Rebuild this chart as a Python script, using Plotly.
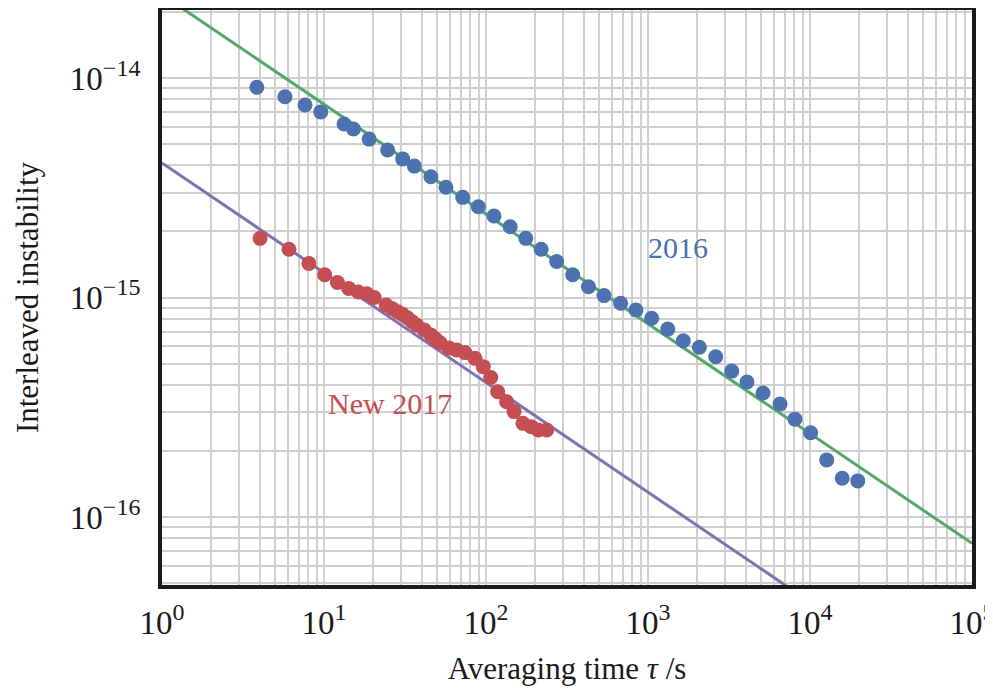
import plotly.graph_objects as go

# ---- data ----
tau_2016 = [3.85, 5.74, 7.64, 9.55, 13.3, 15.2, 19.0, 24.7, 30.6, 36.1, 45.7, 56.6, 71.8, 89.7,
            112, 141, 176, 219, 273, 343, 429, 535, 678, 843, 1054, 1324, 1652, 2075, 2618,
            3289, 4083, 5129, 6531, 8072, 10090, 12680, 15810, 19720]
val_2016 = [9.08e-15, 8.22e-15, 7.53e-15, 7.01e-15, 6.17e-15, 5.86e-15, 5.27e-15, 4.70e-15,
            4.28e-15, 3.97e-15, 3.55e-15, 3.18e-15, 2.86e-15, 2.59e-15, 2.35e-15, 2.10e-15,
            1.86e-15, 1.66e-15, 1.46e-15, 1.27e-15, 1.12e-15, 1.02e-15, 9.42e-16, 8.77e-16,
            8.04e-16, 7.18e-16, 6.35e-16, 5.93e-16, 5.37e-16, 4.62e-16, 4.12e-16, 3.67e-16,
            3.27e-16, 2.79e-16, 2.42e-16, 1.82e-16, 1.50e-16, 1.46e-16]

tau_2017 = [4.03, 6.08, 8.07, 10.1, 12.1, 14.2, 16.3, 18.4, 20.4, 24.2, 26.3, 28.5, 30.5, 32.7,
            34.9, 37.3, 41.6, 45.7, 48.8, 52.0, 59.2, 65.9, 74.1, 85.5, 96.2, 107, 118, 134,
            149, 169, 190, 210, 237]
val_2017 = [1.86e-15, 1.66e-15, 1.43e-15, 1.27e-15, 1.17e-15, 1.10e-15, 1.06e-15, 1.04e-15,
            1.00e-15, 9.25e-16, 8.91e-16, 8.61e-16, 8.38e-16, 8.09e-16, 7.78e-16, 7.50e-16,
            7.11e-16, 6.75e-16, 6.47e-16, 6.22e-16, 5.88e-16, 5.77e-16, 5.61e-16, 5.28e-16,
            4.84e-16, 4.32e-16, 3.72e-16, 3.35e-16, 3.02e-16, 2.67e-16, 2.58e-16, 2.49e-16,
            2.49e-16]

# white-noise guide lines: sigma(tau) = a * tau^-0.5
line_tau = [1, 1e5]
a_2016 = 2.4e-14
a_2017 = 4.1e-15
slope = -0.5

x_tick_vals = [1, 10, 100, 1000, 10000, 100000]
x_tick_exps = ["0", "1", "2", "3", "4", "5"]
y_tick_vals = [1e-16, 1e-15, 1e-14]
y_tick_exps = ["\u221216", "\u221215", "\u221214"]

BLUE = "#4C72B0"
RED = "#C44E52"
GREEN = "#55A868"
PURPLE = "#8172B2"
FONT = "Liberation Serif, Times New Roman, serif"
INK = "#1a1a1a"
GRID = "#cfcfcf"


def sup(e):
    return "10<sup><span style='font-size:24px'>%s</span></sup>" % e


# minor grid at every 2..9 x decade
x_minor = [m * 10 ** d for d in range(0, 5) for m in range(2, 10)]
y_minor = [m * 10.0 ** d for d in range(-17, -13) for m in range(2, 10)]

fig = go.Figure()
fig.add_trace(go.Scatter(x=line_tau, y=[a_2016 * t ** slope for t in line_tau], mode="lines",
                         line=dict(color=GREEN, width=3), showlegend=False))
fig.add_trace(go.Scatter(x=line_tau, y=[a_2017 * t ** slope for t in line_tau], mode="lines",
                         line=dict(color=PURPLE, width=3), showlegend=False))
fig.add_trace(go.Scatter(x=tau_2016, y=val_2016, mode="markers",
                         marker=dict(color=BLUE, size=15), showlegend=False))
fig.add_trace(go.Scatter(x=tau_2017, y=val_2017, mode="markers",
                         marker=dict(color=RED, size=15), showlegend=False))

fig.add_annotation(x=3.185, y=-14.77, xref="x", yref="y", text="2016", showarrow=False,
                   font=dict(family=FONT, size=30, color=BLUE))
fig.add_annotation(x=1.407, y=-15.485, xref="x", yref="y", text="New 2017", showarrow=False,
                   font=dict(family=FONT, size=30, color=RED))

fig.update_xaxes(type="log", range=[0, 5], tickmode="array", tickvals=x_tick_vals,
                 ticktext=[sup(e) for e in x_tick_exps], ticklabeloverflow="allow",
                 showgrid=True, gridcolor=GRID, gridwidth=2,
                 minor=dict(tickmode="array", tickvals=x_minor, showgrid=True,
                            gridcolor=GRID, gridwidth=2, ticks=""),
                 showline=True, mirror=True, linecolor=INK, linewidth=4,
                 ticks="", ticklabelstandoff=5, zeroline=False, automargin=False,
                 tickfont=dict(family=FONT, size=33, color=INK),
                 title=dict(text="Averaging time <i>\u03c4</i> /s", standoff=19,
                            font=dict(family=FONT, size=31, color=INK)))
fig.update_yaxes(type="log", range=[-16.31, -13.69], tickmode="array", tickvals=y_tick_vals,
                 ticktext=[sup(e) for e in y_tick_exps],
                 showgrid=True, gridcolor=GRID, gridwidth=2,
                 minor=dict(tickmode="array", tickvals=y_minor, showgrid=True,
                            gridcolor=GRID, gridwidth=2, ticks=""),
                 showline=True, mirror=True, linecolor=INK, linewidth=4,
                 ticks="", ticklabelstandoff=11, zeroline=False, automargin=False,
                 tickfont=dict(family=FONT, size=33, color=INK),
                 title=dict(text="Interleaved instability", standoff=23,
                            font=dict(family=FONT, size=31, color=INK)))

# page body adds an 8px margin, so the figure is sized/shifted to compensate
fig.update_layout(width=985, height=685, margin=dict(l=154, r=21, t=2, b=108),
                  plot_bgcolor="white", paper_bgcolor="white", showlegend=False)

fig.write_html("out.html")
